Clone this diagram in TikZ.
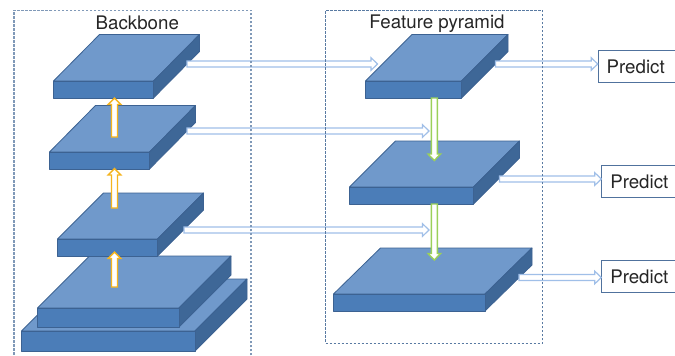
\documentclass[tikz,border=0pt]{standalone}
\usepackage{fontspec}
\setmainfont{TeX Gyre Heros}
\usetikzlibrary{calc}
\definecolor{slabtop}{HTML}{7099CB}
\definecolor{slabfront}{HTML}{4B7DB8}
\definecolor{slabside}{HTML}{3E6797}
\definecolor{slabedge}{HTML}{3C6292}
\definecolor{labelink}{HTML}{262626}
\definecolor{bluearrow}{HTML}{A0BFE8}
\definecolor{yellowarrow}{HTML}{F5B41E}
\definecolor{greenarrow}{HTML}{9BD05A}
\tikzset{
  slabface/.style={draw=slabedge,line width=0.8pt,line join=round},
  hblue/.style={draw=bluearrow,fill=white,line width=1.2pt,line join=miter},
  hyellow/.style={draw=yellowarrow,fill=white,line width=1.4pt,line join=miter},
  hgreen/.style={draw=greenarrow,fill=white,line width=1.4pt,line join=miter},
  groupbox/.style={draw=slabedge!85!white,line width=1pt,dash pattern=on 2.5pt off 1.5pt},
  widegroupbox/.style={draw=slabedge!65!white,line width=1.4pt,dash pattern=on 2.5pt off 1.5pt},
  heading/.style={anchor=base,text=labelink,font=\fontsize{18.7}{20}\selectfont,inner sep=0pt},
  predictbox/.style={draw=slabedge!90!white,fill=white,line width=1pt,anchor=north west,
    minimum height=32pt,text width=84pt,inner xsep=8.5pt,inner ysep=0pt,align=left,
    text=labelink,font=\fontsize{18.7}{20}\selectfont}
}
% name, front-left x, front-right x, front top y, front bottom y, depth x, back y
\newcommand\slab[7]{%
  \coordinate (#1fl) at (#2,#4);
  \coordinate (#1fr) at (#3,#4);
  \coordinate (#1bl) at (#2,#5);
  \coordinate (#1br) at (#3,#5);
  \coordinate (#1tl) at ({#2+#6},#7);
  \coordinate (#1tr) at ({#3+#6},#7);
  \coordinate (#1sr) at ({#3+#6},{#7+#5-#4});
  \fill[slabtop,slabface] (#1fl) -- (#1tl) -- (#1tr) -- (#1fr) -- cycle;
  \fill[slabside,slabface] (#1fr) -- (#1tr) -- (#1sr) -- (#1br) -- cycle;
  \fill[slabfront,slabface] (#1fl) -- (#1fr) -- (#1br) -- (#1bl) -- cycle;
}
% style, tail, tip
\newcommand\hollowarrow[3]{%
  \coordinate (neck) at ($(#3)!6.5pt!(#2)$);
  \draw[#1] ($(#2)!3pt!90:(#3)$) -- ($(neck)!3pt!-90:(#2)$) -- ($(neck)!6.3pt!-90:(#2)$) -- (#3)
    -- ($(neck)!6.3pt!90:(#2)$) -- ($(neck)!3pt!90:(#2)$) -- ($(#2)!3pt!-90:(#3)$) -- cycle;
}
\begin{document}
\begin{tikzpicture}[x=1pt,y=-1pt]
\clip (0,0) rectangle (675,356);
\fill[white] (0,0) rectangle (675,356);
% backbone slabs
\slab{sa}{21.5}{195}{331}{351}{52}{279}
\slab{sb}{37.5}{179}{308}{327}{52}{256}
\slab{sc}{57.5}{157.5}{239}{256}{46}{193}
\slab{sd}{49.5}{149.5}{152}{169}{46}{105.5}
\slab{se}{53.5}{153.5}{81}{98}{46}{34.5}
% pyramid slabs
\slab{fa}{365.5}{461.5}{81}{98}{46.5}{34.5}
\slab{fb}{349.5}{473.5}{187}{204}{46}{141}
\slab{fc}{333.5}{485}{294}{311}{47}{248}
% predict boxes
\node[predictbox] (p1) at (597.7,50) {Predict};
\node[predictbox] (p2) at (601.3,165) {Predict};
\node[predictbox] (p3) at (601.3,260) {Predict};
% connector ends
\coordinate (a1) at (187,64);   \coordinate (b1) at (377.5,64);
\coordinate (a2) at (187,131);  \coordinate (b2) at (429,131);
\coordinate (a3) at (184,230);  \coordinate (b3) at (429,230);
\coordinate (c1) at (495.5,64); \coordinate (c2) at (499.5,179); \coordinate (c3) at (519,277.5);
\coordinate (u1t) at (114.5,137); \coordinate (u1h) at (114.5,98);
\coordinate (u2t) at (114.5,208); \coordinate (u2h) at (114.5,168.5);
\coordinate (u3t) at (114.5,287); \coordinate (u3h) at (114.5,252);
\coordinate (d1t) at (434.3,98);  \coordinate (d1h) at (434.3,160.5);
\coordinate (d2t) at (434.3,204); \coordinate (d2h) at (434.3,260);
\hollowarrow{hblue}{a1}{b1}
\hollowarrow{hblue}{a2}{b2}
\hollowarrow{hblue}{a3}{b3}
\hollowarrow{hblue}{c1}{p1.west |- c1}
\hollowarrow{hblue}{c2}{p2.west |- c2}
\hollowarrow{hblue}{c3}{p3.west |- c3}
\hollowarrow{hyellow}{u1t}{u1h}
\hollowarrow{hyellow}{u2t}{u2h}
\hollowarrow{hyellow}{u3t}{u3h}
\hollowarrow{hgreen}{d1t}{d1h}
\hollowarrow{hgreen}{d2t}{d2h}
% group frames
\node[widegroupbox,minimum width=237pt,minimum height=360pt,anchor=north west,inner sep=0pt] (bbox) at (13.3,9.6) {};
\node[groupbox,minimum width=217pt,minimum height=333pt,anchor=north west,inner sep=0pt] (fbox) at (325,9.8) {};
\node[heading] (bt) at (137.3,29.7) {Backbone};
\node[heading] (ft) at (437,28.7) {Feature pyramid};
\end{tikzpicture}
\end{document}
